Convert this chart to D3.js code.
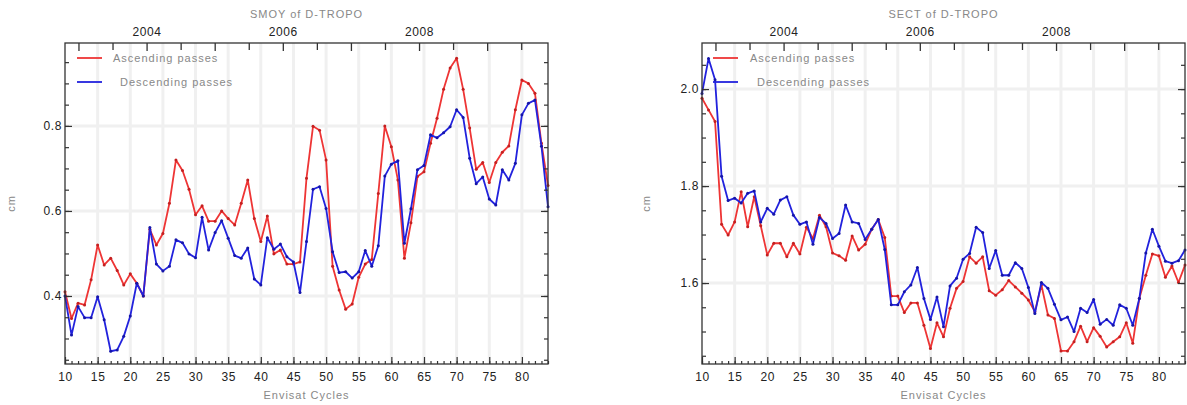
<!DOCTYPE html>
<html>
<head>
<meta charset="utf-8">
<script src="https://cdn.jsdelivr.net/npm/d3@7/dist/d3.min.js"></script>
<style>
  body { margin: 0; background: #fff; }
  svg { display: block; }
  .tick-label { font-family: "Liberation Sans", Arial, sans-serif; font-size: 12px; fill: #222; letter-spacing: 0.6px; }
  .soft { font-family: "Liberation Sans", Arial, sans-serif; font-size: 11px; fill: #888; letter-spacing: 1px; }
</style>
</head>
<body>
<svg id="chart" width="1187" height="405"></svg>
<script>
// Envisat cycles 10..84
var cycles = d3.range(10, 85);

// SMOY of D-TROPO (cm)
var smoyAsc = [0.41, 0.347, 0.383, 0.379, 0.438, 0.52, 0.473, 0.489, 0.46, 0.426,
    0.452, 0.43, 0.40, 0.557, 0.52, 0.547, 0.618, 0.72, 0.695, 0.651,
    0.591, 0.612, 0.576, 0.576, 0.60, 0.582, 0.567, 0.618, 0.673, 0.582,
    0.528, 0.588, 0.499, 0.508, 0.475, 0.475, 0.48, 0.677, 0.799, 0.79,
    0.72, 0.47, 0.414, 0.369, 0.381, 0.444, 0.475, 0.486, 0.641, 0.80,
    0.751, 0.673, 0.489, 0.572, 0.681, 0.692, 0.759, 0.818, 0.886, 0.936,
    0.959, 0.886, 0.795, 0.698, 0.714, 0.667, 0.714, 0.738, 0.753, 0.838,
    0.908, 0.90, 0.877, 0.759, 0.66];
var smoyDesc = [0.40, 0.308, 0.375, 0.349, 0.349, 0.398, 0.344, 0.27, 0.273, 0.305,
    0.353, 0.43, 0.40, 0.561, 0.475, 0.459, 0.47, 0.532, 0.525, 0.499,
    0.49, 0.585, 0.508, 0.549, 0.577, 0.536, 0.495, 0.489, 0.513, 0.44,
    0.426, 0.537, 0.51, 0.522, 0.492, 0.48, 0.408, 0.528, 0.651, 0.657,
    0.606, 0.504, 0.455, 0.457, 0.442, 0.457, 0.507, 0.47, 0.518, 0.682,
    0.71, 0.718, 0.524, 0.605, 0.697, 0.707, 0.779, 0.772, 0.784, 0.798,
    0.838, 0.82, 0.724, 0.664, 0.68, 0.628, 0.614, 0.697, 0.673, 0.712,
    0.826, 0.853, 0.861, 0.752, 0.61];

// SECT of D-TROPO (cm)
var sectAsc = [1.981, 1.957, 1.933, 1.721, 1.699, 1.726, 1.788, 1.716, 1.778, 1.718,
    1.658, 1.682, 1.682, 1.654, 1.682, 1.66, 1.715, 1.692, 1.74, 1.716,
    1.662, 1.656, 1.647, 1.697, 1.668, 1.68, 1.711, 1.731, 1.694, 1.573,
    1.573, 1.539, 1.559, 1.559, 1.513, 1.465, 1.518, 1.489, 1.548, 1.589,
    1.603, 1.654, 1.641, 1.654, 1.584, 1.575, 1.586, 1.605, 1.592, 1.579,
    1.565, 1.541, 1.596, 1.534, 1.527, 1.46, 1.46, 1.479, 1.511, 1.479,
    1.508, 1.49, 1.468, 1.479, 1.489, 1.518, 1.476, 1.568, 1.616, 1.66,
    1.656, 1.612, 1.635, 1.601, 1.637];
var sectDesc = [1.991, 2.063, 2.019, 1.82, 1.77, 1.775, 1.765, 1.785, 1.79, 1.726,
    1.754, 1.742, 1.771, 1.778, 1.74, 1.721, 1.726, 1.68, 1.735, 1.723,
    1.692, 1.702, 1.761, 1.726, 1.723, 1.69, 1.711, 1.731, 1.669, 1.555,
    1.555, 1.582, 1.596, 1.632, 1.568, 1.525, 1.571, 1.51, 1.594, 1.61,
    1.649, 1.661, 1.715, 1.704, 1.63, 1.667, 1.616, 1.616, 1.642, 1.63,
    1.591, 1.537, 1.601, 1.589, 1.556, 1.524, 1.53, 1.50, 1.548, 1.539,
    1.566, 1.515, 1.525, 1.513, 1.555, 1.548, 1.513, 1.568, 1.662, 1.711,
    1.676, 1.645, 1.641, 1.646, 1.668];

// axis labels
var xMajorTicks = d3.range(10, 85, 5);
var yearLabels = [2004, 2006, 2008];
var halfYearTicks = d3.range(2003, 2010, 0.5);
var smoyYTicks = [0.4, 0.6, 0.8];
var sectYTicks = [1.6, 1.8, 2.0];

var COLORS = { asc: "#ee3535", desc: "#2222dd", ascDot: "#c42020", descDot: "#1515a8" };

// cycle -> decimal year (35-day repeat, 2003.0 at cycle ~12.14)
function cycleToYear(c) {
    return 2003 + (c - 12.14) * 35 / 365.25;
}

var svg = d3.select("#chart");

function drawPanel(opts) {
    var left = opts.left, top = 43, width = opts.width, height = 321;
    var g = svg.append("g").attr("transform", "translate(" + left + "," + top + ")");

    var x = d3.scaleLinear().domain([10, 84]).range([0, width]);
    var y = d3.scaleLinear().domain(opts.yDomain).range([height, 0]);
    var yr = d3.scaleLinear().domain([cycleToYear(10), cycleToYear(84)]).range([0, width]);

    // grid
    g.selectAll(".vgrid").data(xMajorTicks.filter(function(d) { return d > 10; }))
        .enter().append("line")
        .attr("x1", x).attr("x2", x).attr("y1", 0).attr("y2", height)
        .attr("stroke", "#f0f0f0").attr("stroke-width", 3);
    g.selectAll(".hgrid").data(opts.yTicks)
        .enter().append("line")
        .attr("x1", 0).attr("x2", width).attr("y1", y).attr("y2", y)
        .attr("stroke", "#f0f0f0").attr("stroke-width", 3);

    // series
    var line = d3.line().x(function(d) { return x(d[0]); }).y(function(d) { return y(d[1]); });
    [["asc", opts.asc], ["desc", opts.desc]].forEach(function(s) {
        var pts = cycles.map(function(c, i) { return [c, s[1][i]]; });
        g.append("path").datum(pts)
            .attr("fill", "none")
            .attr("stroke", COLORS[s[0]])
            .attr("stroke-width", 1.8)
            .attr("stroke-linejoin", "round")
            .attr("d", line);
        g.selectAll(".dot-" + s[0]).data(pts).enter().append("circle")
            .attr("cx", function(d) { return x(d[0]); })
            .attr("cy", function(d) { return y(d[1]); })
            .attr("r", 1.5)
            .attr("fill", COLORS[s[0] + "Dot"]);
    });

    // axes (ticks inward)
    var minorY = d3.range(Math.ceil(opts.yDomain[0] * 20), Math.floor(opts.yDomain[1] * 20) + 1)
        .map(function(d) { return d / 20; });

    var bottom = g.append("g").attr("transform", "translate(0," + height + ")");
    bottom.call(d3.axisBottom(x).tickValues(d3.range(10, 85)).tickSize(-3).tickFormat(""));
    bottom.call(function(a) { a.select(".domain").remove(); });
    var bottomMajor = g.append("g").attr("transform", "translate(0," + height + ")")
        .call(d3.axisBottom(x).tickValues(xMajorTicks).tickSize(-7).tickPadding(8));
    bottomMajor.select(".domain").remove();

    var leftAx = g.append("g").call(d3.axisLeft(y).tickValues(minorY).tickSize(-4).tickFormat(""));
    leftAx.select(".domain").remove();
    var leftMajor = g.append("g").call(d3.axisLeft(y).tickValues(opts.yTicks).tickSize(-7)
        .tickPadding(3).tickFormat(d3.format(".1f")));
    leftMajor.select(".domain").remove();

    var rightAx = g.append("g").attr("transform", "translate(" + width + ",0)")
        .call(d3.axisRight(y).tickValues(minorY).tickSize(-4).tickFormat(""));
    rightAx.select(".domain").remove();
    var rightMajor = g.append("g").attr("transform", "translate(" + width + ",0)")
        .call(d3.axisRight(y).tickValues(opts.yTicks).tickSize(-7).tickFormat(""));
    rightMajor.select(".domain").remove();

    g.selectAll(".tick line").attr("stroke", "#333").attr("stroke-width", 1.2);
    g.selectAll(".tick text").attr("class", "tick-label").attr("font-family", null).attr("font-size", null);

    // frame
    g.append("rect").attr("width", width).attr("height", height)
        .attr("fill", "none").attr("stroke", "#333").attr("stroke-width", 1.3);

    // top date axis: half-year ticks pointing down, labels every 2 years
    var halfYears = halfYearTicks.filter(function(d) {
        return d >= yr.domain()[0] && d <= yr.domain()[1];
    });
    g.selectAll(".ytick").data(halfYears).enter().append("line")
        .attr("x1", yr).attr("x2", yr)
        .attr("y1", 0).attr("y2", function(d) { return d % 1 === 0 ? 8 : 7; })
        .attr("stroke", "#333").attr("stroke-width", 1.3);
    g.selectAll(".ylabel").data(yearLabels).enter().append("text")
        .attr("class", "tick-label")
        .attr("x", yr).attr("y", -7)
        .attr("text-anchor", "middle")
        .text(function(d) { return d; });

    // titles
    g.append("text").attr("class", "soft").attr("x", width / 2).attr("y", -25)
        .attr("text-anchor", "middle").text(opts.title);
    g.append("text").attr("class", "soft").attr("x", width / 2).attr("y", height + 35)
        .attr("text-anchor", "middle").text("Envisat Cycles");
    g.append("text").attr("class", "soft")
        .attr("transform", "translate(" + opts.cmX + "," + (height / 2) + ") rotate(-90)")
        .attr("text-anchor", "middle").text("cm");

    // legend
    var legend = [["asc", "Ascending passes", 15, 48], ["desc", " Descending passes", 39, 51]];
    legend.forEach(function(l) {
        g.append("line").attr("x1", opts.legX).attr("x2", opts.legX + 25)
            .attr("y1", l[2]).attr("y2", l[2])
            .attr("stroke", COLORS[l[0]]).attr("stroke-width", 1.8);
        g.append("text").attr("class", "soft").attr("x", l[3]).attr("y", l[2] + 4)
            .attr("xml:space", "preserve").style("white-space", "pre").text(l[1]);
    });
}

drawPanel({ left: 65, width: 483, title: "SMOY of D-TROPO", yDomain: [0.24, 0.995],
    yTicks: smoyYTicks, asc: smoyAsc, desc: smoyDesc, cmX: -50, legX: 12 });
drawPanel({ left: 702, width: 483, title: "SECT of D-TROPO", yDomain: [1.433, 2.095],
    yTicks: sectYTicks, asc: sectAsc, desc: sectDesc, cmX: -52, legX: 11 });
</script>
</body>
</html>
